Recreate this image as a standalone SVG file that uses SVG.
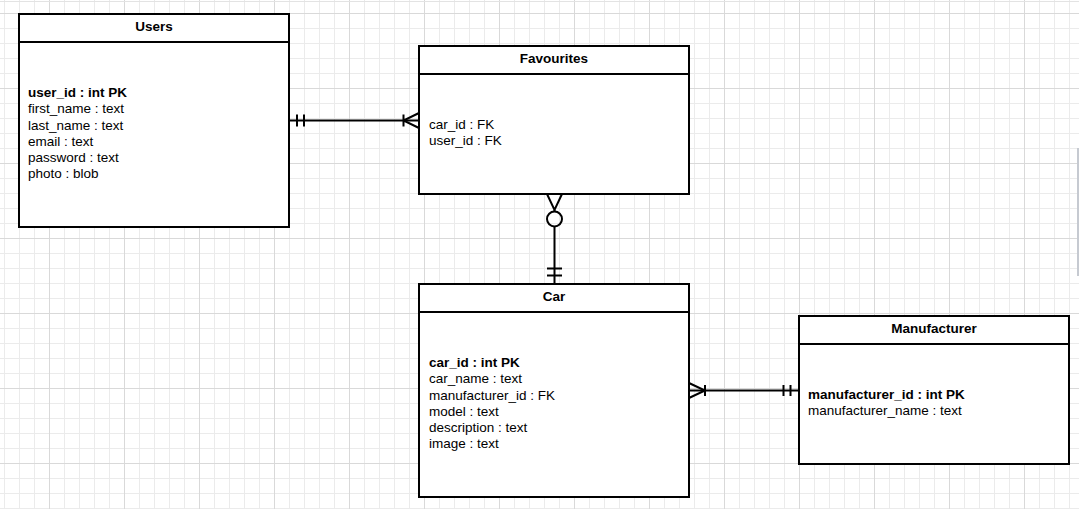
<svg xmlns="http://www.w3.org/2000/svg" width="1079" height="509" viewBox="0 0 1079 509">
<defs>
<pattern id="minor" patternUnits="userSpaceOnUse" x="4" y="13" width="15" height="15">
<path d="M0 0.5H15M0.5 0V15" stroke="#ebebeb" stroke-width="1" fill="none"/>
</pattern>
<pattern id="major" patternUnits="userSpaceOnUse" x="49" y="13" width="75" height="75">
<path d="M0 0.5H75M0.5 0V75" stroke="#d9d9d9" stroke-width="1" fill="none"/>
</pattern>
<style>
.box{fill:#fff;stroke:#000;stroke-width:2}
.sep{stroke:#000;stroke-width:2}
.title{font-family:"Liberation Sans",Arial,sans-serif;font-size:13.5px;font-weight:bold;text-anchor:middle;fill:#000}
.field{font-family:"Liberation Sans",Arial,sans-serif;font-size:13.5px;fill:#000}
.pk{font-weight:bold}
.conn{stroke:#000;stroke-width:2;fill:none}
</style>
</defs>
<rect width="1079" height="509" fill="#fff"/>
<rect width="1079" height="509" fill="url(#minor)"/>
<rect width="1079" height="509" fill="url(#major)"/>
<line x1="0" y1="1.5" x2="1079" y2="1.5" stroke="#e3e3e3" stroke-width="1"/>
<line x1="1078" y1="148" x2="1078" y2="276" stroke="#c6cad1" stroke-width="2"/>

<g id="connectors">
<!-- Users - Favourites -->
<path class="conn" d="M289 120.5H419"/>
<path class="conn" d="M297 114.5V126.5M304 114.5V126.5"/>
<path class="conn" d="M403.5 114.5V126.5M419 113L403.5 120.5L419 128"/>
<!-- Favourites - Car -->
<path class="conn" d="M554.5 210V211.5M554.5 226.5V284"/>
<path class="conn" d="M547 194L554.5 210L562 194"/>
<circle class="conn" cx="554.5" cy="219" r="7.5"/>
<path class="conn" d="M547 268.5H562M547 275.5H562"/>
<!-- Car - Manufacturer -->
<path class="conn" d="M689 390.5H799"/>
<path class="conn" d="M689 383L705 390.5L689 398M705 385V396"/>
<path class="conn" d="M783.5 385V396M790.5 385V396"/>
</g>

<g id="users">
<rect class="box" x="19" y="14" width="270" height="213"/>
<line class="sep" x1="19" y1="42" x2="289" y2="42"/>
<text class="title" x="154" y="31">Users</text>
<text class="field pk" x="28" y="97">user_id : int PK</text>
<text class="field" x="28" y="113">first_name : text</text>
<text class="field" x="28" y="129.5">last_name : text</text>
<text class="field" x="28" y="146">email : text</text>
<text class="field" x="28" y="162">password : text</text>
<text class="field" x="28" y="178">photo : blob</text>
</g>

<g id="favourites">
<rect class="box" x="419" y="46" width="270" height="148"/>
<line class="sep" x1="419" y1="74" x2="689" y2="74"/>
<text class="title" x="554" y="63">Favourites</text>
<text class="field" x="429" y="129">car_id : FK</text>
<text class="field" x="429" y="145">user_id : FK</text>
</g>

<g id="car">
<rect class="box" x="419" y="284" width="270" height="213"/>
<line class="sep" x1="419" y1="312" x2="689" y2="312"/>
<text class="title" x="554" y="301">Car</text>
<text class="field pk" x="429" y="367">car_id : int PK</text>
<text class="field" x="429" y="383">car_name : text</text>
<text class="field" x="429" y="399.5">manufacturer_id : FK</text>
<text class="field" x="429" y="416">model : text</text>
<text class="field" x="429" y="432">description : text</text>
<text class="field" x="429" y="448">image : text</text>
</g>

<g id="manufacturer">
<rect class="box" x="799" y="316" width="270" height="148"/>
<line class="sep" x1="799" y1="344" x2="1069" y2="344"/>
<text class="title" x="934" y="333">Manufacturer</text>
<text class="field pk" x="808" y="399">manufacturer_id : int PK</text>
<text class="field" x="808" y="415">manufacturer_name : text</text>
</g>
</svg>
